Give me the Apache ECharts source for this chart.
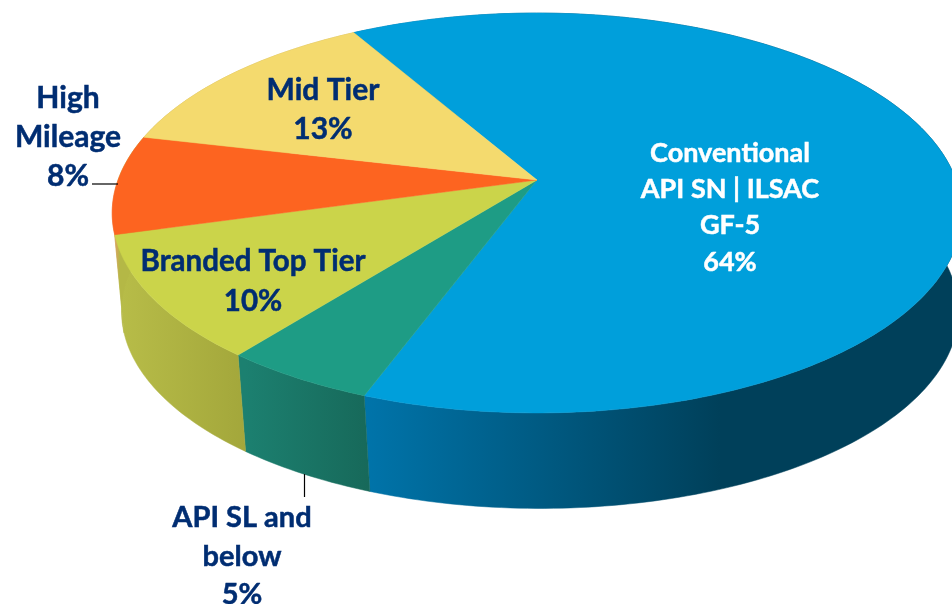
<!DOCTYPE html>
<html><head><meta charset="utf-8">
<style>html,body{margin:0;padding:0;background:#fff}#c{width:952px;height:604px}</style>
<script src="https://cdn.jsdelivr.net/npm/echarts@6/dist/echarts.min.js"></script>
</head><body><div id="c"></div>
<script>
// Data, clockwise from the "Conventional" slice
const sliceNames = ['Conventional', 'API SL and below', 'Branded Top Tier', 'High Mileage', 'Mid Tier'];
const sliceValues = [64, 5, 10, 8, 13];
const sliceLabels = [
  ['Conventional', 'API SN | ILSAC', 'GF-5', '64%'],
  ['API SL and', 'below', '5%'],
  ['Branded Top Tier', '10%'],
  ['High', 'Mileage', '8%'],
  ['Mid Tier', '13%']
];
// Styling and layout
const topColors = ['#009FDB', '#1E9C85', '#CBD44A', '#FD6420', '#F4DA6E'];
const wallColors = [['#0074AA', '#00405A'], ['#1C8070', '#17695A'], ['#B7BC48', '#A3A73B'], ['#E89A6A', '#B4B846'], ['#C9AF55', '#C9AF55']];
const wallRanges = [[365, 720], [245, 368], [122, 245], [114, 120], [146, 355]];
const labelColors = ['#FFFFFF', '#002D72', '#002D72', '#002D72', '#002D72'];
const labelSizes = [27, 29, 29.5, 30, 30];
const labelCenters = [[730, 153], [242, 518], [253, 261], [68, 98], [323, 90]];
const labelLineHeights = [36.3, 38.5, 40, 39, 39];
const leaders = [[[92, 184], [118, 184]], [[304.5, 474], [304.5, 497]]];
const pie = { cx: 537, cy: 180, b: 419, a: 194.5, k: 0.165, startDeg: 240, depth: 99, shrink: 0.985, baseShiftX: 3 };
const FONT = 'Lato, "Noto Sans", sans-serif';

function project(deg, level) {
  const t = deg * Math.PI / 180, s = 1 / (1 - pie.k * Math.sin(t));
  const m = level ? pie.shrink : 1;
  return [pie.cx + (level ? pie.baseShiftX : 0) + pie.b * m * Math.cos(t) * s, pie.cy + (level ? pie.depth : 0) + pie.a * m * Math.sin(t) * s];
}
function arc(d0, d1, level) {
  const pts = [], n = Math.max(2, Math.ceil(Math.abs(d1 - d0)));
  for (let i = 0; i <= n; i++) pts.push(project(d0 + (d1 - d0) * i / n, level));
  return pts;
}
const total = sliceValues.reduce((a, b) => a + b, 0);
function angles(i) {
  let before = 0;
  for (let j = 0; j < i; j++) before += sliceValues[j];
  return [pie.startDeg + before / total * 360, pie.startDeg + (before + sliceValues[i]) / total * 360];
}
const seriesData = sliceNames.map((n, i) => ({ name: n, value: sliceValues[i] }));

const chart = echarts.init(document.getElementById('c'), null, { renderer: 'canvas' });
chart.setOption({
  animation: false,
  backgroundColor: '#fff',
  tooltip: { show: false },
  series: [
    {
      type: 'custom', name: 'walls', coordinateSystem: 'none', silent: true, z: 1,
      data: seriesData,
      renderItem(params) {
        const i = params.dataIndex, [d0, d1] = angles(i), r = wallRanges[i];
        const fill = new echarts.graphic.LinearGradient(r[0], 0, r[1], 0, [
          { offset: 0, color: wallColors[i][0] }, { offset: 1, color: wallColors[i][1] }], true);
        return { type: 'polygon', shape: { points: arc(d0, d1, 0).concat(arc(d1, d0, 1)) },
          style: { fill, stroke: fill, lineWidth: 0.5 } };
      }
    },
    {
      type: 'custom', name: 'tops', coordinateSystem: 'none', silent: true, z: 2,
      data: seriesData,
      renderItem(params) {
        const i = params.dataIndex, [d0, d1] = angles(i);
        return { type: 'polygon', shape: { points: [[pie.cx, pie.cy]].concat(arc(d0, d1, 0)) },
          style: { fill: topColors[i], stroke: topColors[i], lineWidth: 0.5 } };
      }
    },
    {
      type: 'custom', name: 'labels', coordinateSystem: 'none', silent: true, z: 3,
      data: seriesData,
      renderItem(params) {
        const i = params.dataIndex, c = labelCenters[i];
        return { type: 'group', children: sliceLabels[i].map((t, j) => ({
          type: 'text',
          style: { text: t, x: c[0], y: c[1] + j * labelLineHeights[i], align: 'center', verticalAlign: 'middle',
            fill: labelColors[i], stroke: labelColors[i], lineWidth: 0.5, font: 'bold ' + labelSizes[i] + 'px ' + FONT }
        })) };
      }
    },
    {
      type: 'custom', name: 'leaders', coordinateSystem: 'none', silent: true, z: 3,
      data: leaders.map((l, i) => ({ name: 'leader' + i, value: i })),
      renderItem(params) {
        const l = leaders[params.dataIndex];
        return { type: 'polyline', shape: { points: l }, style: { fill: 'none', stroke: '#000', lineWidth: 1.2 } };
      }
    }
  ]
});
</script></body></html>
